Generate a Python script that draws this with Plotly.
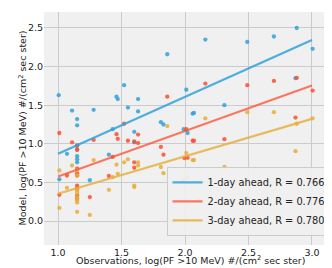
import plotly.graph_objects as go
import numpy as np

# ---- data ----
obs_1day = [1.005, 1.11, 1.15, 1.15, 1.28, 1.46, 1.47, 1.52, 1.55, 1.63, 1.63, 1.43, 1.60, 1.60,
            1.86, 1.81, 1.83, 2.16, 2.49, 2.70, 2.88, 3.005, 2.01, 2.31, 2.06, 2.07, 1.99, 2.02,
            2.87, 1.07, 1.15, 1.15, 1.15, 1.15, 1.15, 1.01, 1.25, 1.40]
mod_1day = [1.63, 1.43, 1.32, 1.24, 1.44, 1.61, 1.58, 1.76, 1.47, 1.58, 1.42, 1.19, 1.155, 1.02,
            2.16, 1.28, 1.25, 2.35, 2.32, 2.39, 2.50, 2.23, 1.70, 1.50, 1.39, 1.40, 1.19, 1.14,
            1.85, 0.87, 0.98, 0.93, 0.84, 0.80, 0.76, 0.54, 0.53, 0.86]

obs_2day = [1.01, 1.11, 1.28, 1.52, 1.46, 1.47, 1.55, 1.63, 1.86, 2.16, 2.49, 2.70, 2.88, 3.005,
            2.01, 2.87, 2.31, 2.06, 2.07, 1.60, 1.63, 1.81, 1.83, 1.995, 2.02, 1.60, 1.60, 1.07,
            1.01, 1.15, 1.15, 1.15, 1.15, 1.15, 1.15, 1.15, 1.15, 1.15, 1.25, 1.40, 1.43]
mod_2day = [1.14, 1.02, 1.05, 1.26, 1.125, 1.065, 1.04, 1.12, 1.61, 1.78, 1.76, 1.815, 1.855, 1.69,
            1.19, 1.34, 1.06, 1.04, 1.04, 1.03, 1.01, 0.96, 0.86, 0.815, 0.82, 0.76, 0.69, 0.59,
            0.34, 0.975, 0.92, 0.68, 0.62, 0.59, 0.46, 0.42, 0.33, 0.29, 0.31, 0.585, 0.83]

obs_3day = [1.86, 2.16, 2.49, 2.70, 2.88, 3.005, 2.01, 2.06, 2.07, 2.31, 2.87, 1.99, 2.02, 1.52,
            1.55, 1.63, 1.63, 1.60, 1.60, 1.81, 1.83, 1.46, 1.47, 1.01, 1.01, 1.07, 1.11, 1.15,
            1.15, 1.15, 1.15, 1.15, 1.15, 1.15, 1.15, 1.25, 1.28, 1.40, 1.43]
mod_3day = [1.23, 1.33, 1.41, 1.41, 1.26, 1.33, 0.88, 0.79, 0.79, 0.70, 0.905, 0.53, 0.565, 0.76,
            0.80, 0.76, 0.72, 0.46, 0.44, 0.70, 0.62, 0.73, 0.61, 0.655, 0.17, 0.43, 0.72, 0.655,
            0.59, 0.40, 0.37, 0.31, 0.27, 0.24, 0.12, 0.08, 0.79, 0.405, 0.57]

series_names = ["1-day ahead, R = 0.766", "2-day ahead, R = 0.776", "3-day ahead, R = 0.780"]
fit_slope = [0.7375, 0.5885, 0.485]
fit_intercept = [0.1325, -0.0105, -0.132]
fit_x = [1.0, 3.0]

x_ticks = [1.0, 1.5, 2.0, 2.5, 3.0]
y_ticks = [0.0, 0.5, 1.0, 1.5, 2.0, 2.5]

x_title = "Observations, log(PF >10 MeV) #/(cm<sup>2</sup> sec ster)"
y_title = "Model, log(PF >10 MeV) #/(cm<sup>2</sup> sec ster)"

colors = ["#30a2da", "#fc4f30", "#e5ae38"]
line_colors = ["rgba(48,162,218,0.85)", "rgba(252,79,48,0.75)", "rgba(229,174,56,0.8)"]

obs_all = [obs_1day, obs_2day, obs_3day]
mod_all = [mod_1day, mod_2day, mod_3day]

fig = go.Figure()
for i in range(3):
    fig.add_trace(go.Scatter(
        x=obs_all[i], y=mod_all[i], mode="markers",
        marker=dict(color=colors[i], size=4.3, opacity=0.85, line=dict(width=0)),
        showlegend=False, hoverinfo="skip"))
for i in range(3):
    xs = np.array(fit_x)
    ys = fit_slope[i] * xs + fit_intercept[i]
    fig.add_trace(go.Scatter(
        x=xs, y=ys, mode="lines", name=series_names[i],
        line=dict(color=line_colors[i], width=2.2)))

font = "DejaVu Sans"
fig.update_layout(
    width=332, height=268,
    margin=dict(l=36, r=3, t=4, b=31),
    paper_bgcolor="white",
    plot_bgcolor="#f0f0f0",
    font=dict(family=font, size=9.5, color="#222222"),
    showlegend=True,
    legend=dict(
        x=0.978, y=0.039, xanchor="right", yanchor="bottom",
        bgcolor="rgba(240,240,240,0.9)", bordercolor="#cccccc", borderwidth=1,
        font=dict(family=font, size=9.8, color="#222222"),
        itemwidth=30, tracegroupgap=0,
    ),
    xaxis=dict(
        range=[0.889, 3.197], tickvals=x_ticks, ticktext=[f"{v:.1f}" for v in x_ticks],
        showgrid=True, gridcolor="#cbcbcb", gridwidth=1, zeroline=False,
        ticks="", showline=False, tickfont=dict(size=9.5), automargin=False,
    ),
    yaxis=dict(
        range=[-0.31, 2.707], tickvals=y_ticks, ticktext=[f"{v:.1f}" for v in y_ticks],
        showgrid=True, gridcolor="#cbcbcb", gridwidth=1, zeroline=False,
        ticks="", showline=False, tickfont=dict(size=9.5), automargin=False,
    ),
    annotations=[
        dict(text=x_title, xref="paper", yref="paper", x=0.5, y=0,
             xanchor="center", yanchor="bottom", yshift=-21.5, showarrow=False,
             borderpad=0, font=dict(family=font, size=9.5, color="#222222")),
        dict(text=y_title, xref="paper", yref="paper", x=0, y=0.5, textangle=-90,
             xanchor="right", yanchor="middle", xshift=-15, showarrow=False,
             borderpad=0, font=dict(family=font, size=9.5, color="#222222")),
    ],
)

fig.write_html("out.html")
